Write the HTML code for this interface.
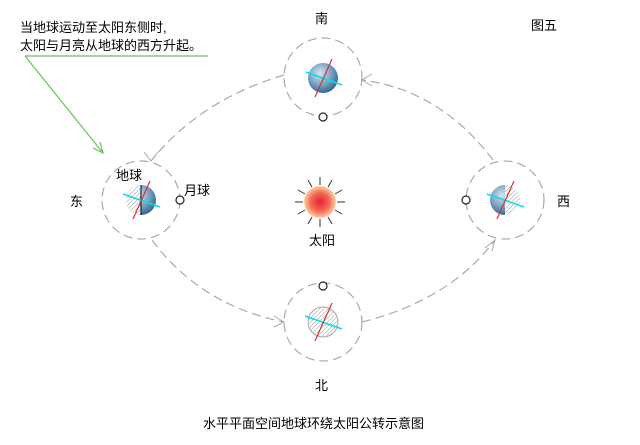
<!DOCTYPE html>
<html><head><meta charset="utf-8"><style>
body{margin:0;background:#fff;}
svg text{font-family:"Liberation Sans","Noto Sans CJK SC",sans-serif;font-size:13px;fill:#000;}
</style></head><body>
<svg width="640" height="440" viewBox="0 0 640 440" xmlns="http://www.w3.org/2000/svg">
<defs>
<radialGradient id="eg" cx="0.4" cy="0.35" r="0.7"><stop offset="0" stop-color="#d8e6f0"/><stop offset="0.6" stop-color="#6f9bbd"/><stop offset="1" stop-color="#2f5f8a"/></radialGradient>
<radialGradient id="sg" cx="0.5" cy="0.5" r="0.5"><stop offset="0" stop-color="#e8202a"/><stop offset="0.6" stop-color="#f46a5a"/><stop offset="1" stop-color="#fbd0a0"/></radialGradient>
<pattern id="hatch" width="3" height="3" patternUnits="userSpaceOnUse" patternTransform="rotate(45)"><rect width="3" height="3" fill="#fff"/><line x1="0" y1="0" x2="0" y2="3" stroke="#999" stroke-width="1"/></pattern>
<clipPath id="lh"><rect x="-20" y="-20" width="20" height="40"/></clipPath>
<clipPath id="rh"><rect x="0" y="-20" width="20" height="40"/></clipPath>
</defs>
<g fill="none" stroke="#aaa" stroke-width="1.2" stroke-dasharray="9,5">
<circle cx="323" cy="77" r="39"/>
<circle cx="141" cy="200" r="39"/>
<circle cx="505" cy="200" r="39"/>
<circle cx="323" cy="322" r="39"/>
<path d="M284 75 Q200 100 151 161"/>
<path d="M152 240 Q200 305 284 322"/>
<path d="M362 322 Q450 300 495 240"/>
<path d="M493 160 Q440 90 362 80"/>
</g>
<g fill="none" stroke="#aaa" stroke-width="1">
<path d="M144 152 L151 161 L158 152"/>
<path d="M274 316 L284 322 L274 327"/>
<path d="M485 248 L495 240 L492 251"/>
<path d="M372 74 L362 80 L372 86"/>
</g>
<!-- top earth -->
<g transform="translate(323,78)"><circle r="15" fill="url(#eg)"/>
<line x1="-17" y1="-6" x2="19" y2="7" stroke="#00e0f0" stroke-width="1.5"/><line x1="9" y1="-19" x2="-8" y2="19" stroke="#e03030" stroke-width="1.2"/></g>
<!-- left earth: lit on right -->
<g transform="translate(141,200)"><circle r="15" fill="url(#hatch)" clip-path="url(#lh)"/><circle r="15" fill="url(#eg)" clip-path="url(#rh)"/><line x1="0" y1="-15" x2="0" y2="15" stroke="#123" stroke-width="1.2"/>
<line x1="-18" y1="-6" x2="19" y2="7" stroke="#00e0f0" stroke-width="1.5"/><line x1="9" y1="-19" x2="-8" y2="19" stroke="#e03030" stroke-width="1.2"/></g>
<!-- right earth: lit on left -->
<g transform="translate(505,200)"><circle r="15" fill="url(#eg)" clip-path="url(#lh)"/><circle r="15" fill="url(#hatch)" clip-path="url(#rh)"/>
<line x1="-18" y1="-6" x2="19" y2="7" stroke="#00e0f0" stroke-width="1.5"/><line x1="9" y1="-19" x2="-8" y2="19" stroke="#e03030" stroke-width="1.2"/></g>
<!-- bottom earth -->
<g transform="translate(323,322)"><circle r="15" fill="url(#hatch)" stroke="#aaa"/>
<line x1="-18" y1="-6" x2="19" y2="7" stroke="#00e0f0" stroke-width="1.5"/><line x1="9" y1="-19" x2="-8" y2="19" stroke="#e03030" stroke-width="1.2"/></g>
<!-- moons -->
<g fill="#fff" stroke="#222" stroke-width="1.2">
<circle cx="323" cy="117" r="4"/><circle cx="180" cy="200" r="4"/><circle cx="466" cy="200" r="4"/><circle cx="323" cy="286" r="4"/>
</g>
<!-- sun -->
<g stroke="#333" stroke-width="1" transform="translate(320,202)">
<line x1="0" y1="-17" x2="0" y2="-25"/><line x1="0" y1="17" x2="0" y2="25"/><line x1="-17" y1="0" x2="-25" y2="0"/><line x1="17" y1="0" x2="25" y2="0"/>
<line x1="8" y1="-15" x2="12" y2="-22"/><line x1="15" y1="-8" x2="22" y2="-12"/><line x1="15" y1="8" x2="22" y2="12"/><line x1="8" y1="15" x2="12" y2="22"/>
<line x1="-8" y1="-15" x2="-12" y2="-22"/><line x1="-15" y1="-8" x2="-22" y2="-12"/><line x1="-15" y1="8" x2="-22" y2="12"/><line x1="-8" y1="15" x2="-12" y2="22"/>
</g>
<circle cx="320" cy="202" r="16" fill="url(#sg)"/>
<!-- green pointer -->
<g stroke="#66c455" stroke-width="1.2" fill="none">
<line x1="25" y1="56" x2="208" y2="56"/><line x1="25" y1="56" x2="103" y2="153"/>
<path d="M93 148 L103 153 L100 142"/>
</g>
<text x="20" y="32">当地球运动至太阳东侧时,</text>
<text x="20" y="50">太阳与月亮从地球的西方升起。</text>
<text x="315" y="23">南</text>
<text x="531" y="30">图五</text>
<text x="116" y="180">地球</text>
<text x="184" y="195">月球</text>
<text x="70" y="206">东</text>
<text x="557" y="206">西</text>
<text x="309" y="245">太阳</text>
<text x="315" y="390">北</text>
<text x="203" y="428">水平平面空间地球环绕太阳公转示意图</text>
</svg>
</body></html>
